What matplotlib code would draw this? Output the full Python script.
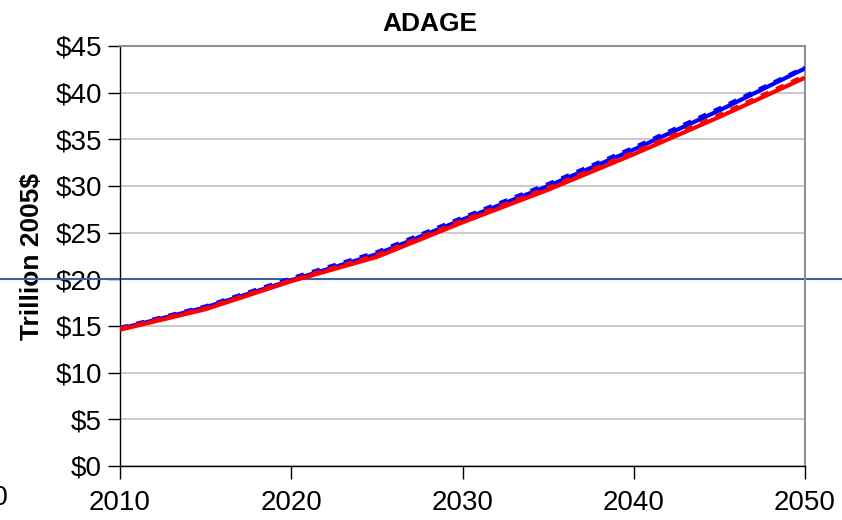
import matplotlib
matplotlib.use("Agg")
import matplotlib.pyplot as plt
from matplotlib.ticker import FuncFormatter

plt.rcParams['font.family'] = ['Liberation Sans', 'DejaVu Sans']

years = [2010, 2015, 2020, 2025, 2030, 2035, 2040, 2045, 2050]
blue_solid = [14.7, 17.0, 19.9, 22.7, 26.4, 30.0, 33.9, 38.1, 42.6]
blue_dash = [14.8, 17.1, 20.1, 22.9, 26.6, 30.2, 34.1, 38.3, 42.7]
red_solid = [14.6, 16.8, 19.8, 22.4, 26.1, 29.6, 33.4, 37.4, 41.6]
red_dash = [14.7, 16.9, 19.9, 22.6, 26.3, 29.8, 33.6, 37.6, 41.8]
yticks = [0, 5, 10, 15, 20, 25, 30, 35, 40, 45]
xticks = [2010, 2020, 2030, 2040, 2050]

W, H = 842, 520
fig = plt.figure(figsize=(W / 100, H / 100), dpi=100)
ax = fig.add_axes([120 / W, 1 - 466 / H, 685 / W, 420 / H])

ax.plot(years, blue_solid, color='#0000ff', lw=3, solid_capstyle='butt', zorder=3)
ax.plot(years, blue_dash, color='#0000ff', lw=3, ls=(0, (2, 2)), zorder=3)
ax.plot(years, red_solid, color='#ff0000', lw=3, solid_capstyle='butt', zorder=4)
ax.plot(years, red_dash, color='#ff0000', lw=3, ls=(0, (2, 2)), zorder=4)

ax.set_xlim(2010, 2050)
ax.set_ylim(0, 45)
ax.set_yticks(yticks)
ax.set_xticks(xticks)
ax.yaxis.set_major_formatter(FuncFormatter(lambda v, p: f"${v:.0f}"))
ax.grid(axis='y', color='#c0c0c0', lw=1.2)
ax.set_axisbelow(True)

for s in ['top', 'right']:
    ax.spines[s].set_color('#909090')
    ax.spines[s].set_linewidth(1.5)
for s in ['left', 'bottom']:
    ax.spines[s].set_color('black')
    ax.spines[s].set_linewidth(1.0)

ax.tick_params(axis='both', labelsize=20, length=9, width=1, color='black')
ax.tick_params(axis='y', pad=4)
ax.tick_params(axis='x', pad=8)

ax.set_ylabel('Trillion 2005$', fontsize=19, fontweight='bold')
ax.yaxis.set_label_coords(-76 / 685, 0.5)
fig.text(430 / W, 1 - 24 / H, 'ADAGE', fontsize=19, fontweight='bold', ha='center', va='center')

# stray label from neighbouring chart at left edge
fig.text(8 / W, 1 - 498 / H, '2000', fontsize=20, ha='right', va='center')

# horizontal dark blue line across the whole figure at $20
ax.axhline(20, xmin=-120 / 685, xmax=(W - 120) / 685, color='#3a64a0', lw=1.5,
           clip_on=False, zorder=2)

fig.savefig('out.png', dpi=100)
